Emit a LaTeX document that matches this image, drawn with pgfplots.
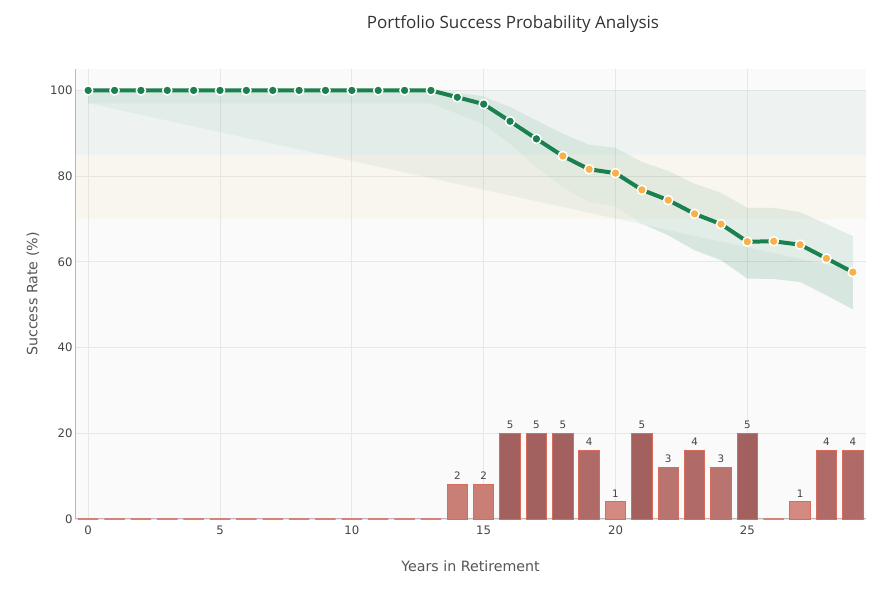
\documentclass[border=0pt]{standalone}
\usepackage{fontspec}
\setmainfont{DejaVu Sans}
\newfontfamily\titlefont{Open Sans}
\usepackage{pgfplots}
\pgfplotsset{compat=1.18}
\definecolor{plotbg}{RGB}{250,250,250}
\definecolor{linegreen}{RGB}{26,128,80}
\definecolor{mkorange}{RGB}{248,176,74}
\definecolor{bandorange}{RGB}{240,180,100}
\definecolor{gridc}{RGB}{232,232,232}
\definecolor{axisc}{RGB}{185,185,185}
\definecolor{tickc}{RGB}{68,68,68}
\definecolor{labc}{RGB}{85,85,85}
\definecolor{titc}{RGB}{51,51,51}
\definecolor{barline}{RGB}{216,108,92}
\definecolor{zerobar}{RGB}{214,130,120}
\definecolor{bone}{RGB}{212,138,128}
\definecolor{btwo}{RGB}{201,127,117}
\definecolor{bthree}{RGB}{185,116,111}
\definecolor{bfour}{RGB}{176,106,104}
\definecolor{bfive}{RGB}{162,96,95}
\begin{document}
\begin{tikzpicture}
\useasboundingbox (0,0) rectangle (883pt,593pt);
\node[font=\titlefont\fontsize{17}{20}\selectfont, text=titc] at (513pt,569pt) {Portfolio Success Probability Analysis};
\begin{axis}[
  at={(75pt,74pt)}, anchor=south west,
  scale only axis, width=791pt, height=450pt,
  xmin=-0.5, xmax=29.5, ymin=0, ymax=105,
  clip=false,
  axis background/.style={fill=plotbg},
  axis lines*=left,
  axis line style={draw=axisc, line width=1pt},
  xtick={0,5,10,15,20,25}, ytick={0,20,40,60,80,100},
  major tick length=0pt,
  grid=major, major grid style={draw=gridc, line width=0.8pt},
  /pgf/number format/assume math mode=true,
  ticklabel style={font=\fontsize{11.7}{13}\selectfont, text=tickc},
  xticklabel style={yshift=-3pt},
  yticklabel style={xshift=1pt},
  xlabel={Years in Retirement}, ylabel={Success Rate (\%)},
  label style={font=\fontsize{14.2}{16}\selectfont, text=labc},
  xlabel style={at={([yshift=-47pt]axis description cs:0.5,0)}, anchor=center},
  ylabel style={at={([xshift=-42pt]axis description cs:0,0.5)}, anchor=center},
]
% zone bands
\addplot[draw=none, fill=linegreen, fill opacity=0.05] coordinates {(-0.5,85) (29.5,85) (29.5,100) (-0.5,100)} \closedcycle;
\addplot[draw=none, fill=bandorange, fill opacity=0.07] coordinates {(-0.5,70) (29.5,70) (29.5,85) (-0.5,85)} \closedcycle;
% confidence band: upper bound forward, lower bound backward
\addplot[draw=none, fill=linegreen, fill opacity=0.1] coordinates {
(0,100)(1,100)(2,100)(3,100)(4,100)(5,100)(6,100)(7,100)(8,100)(9,100)(10,100)(11,100)(12,100)(13,100)
(14,99.5)(15,98.6)(16,96.1)(17,93.0)(18,89.9)(19,87.3)(20,86.6)(21,83.3)(22,81.2)(23,78.2)(24,76.1)(25,72.6)(26,72.6)(27,71.6)(28,68.8)(29,66.0)
(29,48.9)(28,52.2)(27,55.3)(26,56.0)(25,56.1)(24,60.4)(23,62.7)(22,66.2)(21,68.9)(20,73.0)(19,74.0)(18,77.5)(17,82.1)(16,87.6)(15,92.1)(14,94.6)
(13,97)(12,97)(11,97)(10,97)(9,97)(8,97)(7,97)(6,97)(5,97)(4,97)(3,97)(2,97)(1,97)(0,97)};
% region between lower bound and linear trend
\addplot[draw=none, fill=linegreen, fill opacity=0.055] coordinates {
(0,97)(13,97)(14,94.6)(15,92.1)(16,87.6)(17,82.1)(18,77.5)(19,74.0)(20,73.0)(21,68.9)(21.1,68.62)(0,97)};
\addplot[draw=none, fill=linegreen, fill opacity=0.055] coordinates {
(21.1,68.62)(22,67.41)(23,66.07)(24,64.72)(25,63.38)(26,62.03)(27,60.69)(28,59.34)(29,58.0)
(29,48.9)(28,52.2)(27,55.3)(26,56.0)(25,56.1)(24,60.4)(23,62.7)(22,66.2)(21.1,68.62)};
% bars
\addplot[ybar, bar width=20.5pt, bar shift=0pt, draw=zerobar, line width=1.6pt, fill=none] coordinates {
(0,0)(1,0)(2,0)(3,0)(4,0)(5,0)(6,0)(7,0)(8,0)(9,0)(10,0)(11,0)(12,0)(13,0)(26,0)};
\pgfplotsset{barlab/.style={ybar, bar width=20.5pt, bar shift=0pt, draw=barline, line width=0.9pt,
  nodes near coords, point meta=explicit symbolic,
  every node near coord/.append style={font=\fontsize{10.3}{12}\selectfont, text=tickc, anchor=south, yshift=1pt}}}
\addplot[barlab, fill=bone] table[meta=n] {
x y n
20 4 1
27 4 1
};
\addplot[barlab, fill=btwo] table[meta=n] {
x y n
14 8 2
15 8 2
};
\addplot[barlab, fill=bthree] table[meta=n] {
x y n
22 12 3
24 12 3
};
\addplot[barlab, fill=bfour] table[meta=n] {
x y n
19 16 4
23 16 4
28 16 4
29 16 4
};
\addplot[barlab, fill=bfive] table[meta=n] {
x y n
16 20 5
17 20 5
18 20 5
21 20 5
25 20 5
};
% success line
\addplot[color=linegreen, line width=4pt, line join=round] coordinates {
(0,100)(1,100)(2,100)(3,100)(4,100)(5,100)(6,100)(7,100)(8,100)(9,100)(10,100)(11,100)(12,100)(13,100)
(14,98.4)(15,96.8)(16,92.8)(17,88.7)(18,84.7)(19,81.6)(20,80.7)(21,76.8)(22,74.4)(23,71.2)(24,68.8)(25,64.7)(26,64.8)(27,64.0)(28,60.8)(29,57.6)};
\addplot[only marks, mark=*, mark size=4.6pt, mark options={fill=linegreen, draw=white, line width=1.5pt}] coordinates {
(0,100)(1,100)(2,100)(3,100)(4,100)(5,100)(6,100)(7,100)(8,100)(9,100)(10,100)(11,100)(12,100)(13,100)
(14,98.4)(15,96.8)(16,92.8)(17,88.7)};
\addplot[only marks, mark=*, mark size=4.6pt, mark options={fill=mkorange, draw=white, line width=1.5pt}] coordinates {
(18,84.7)(19,81.6)(20,80.7)(21,76.8)(22,74.4)(23,71.2)(24,68.8)(25,64.7)(26,64.8)(27,64.0)(28,60.8)(29,57.6)};
\end{axis}
\end{tikzpicture}
\end{document}
